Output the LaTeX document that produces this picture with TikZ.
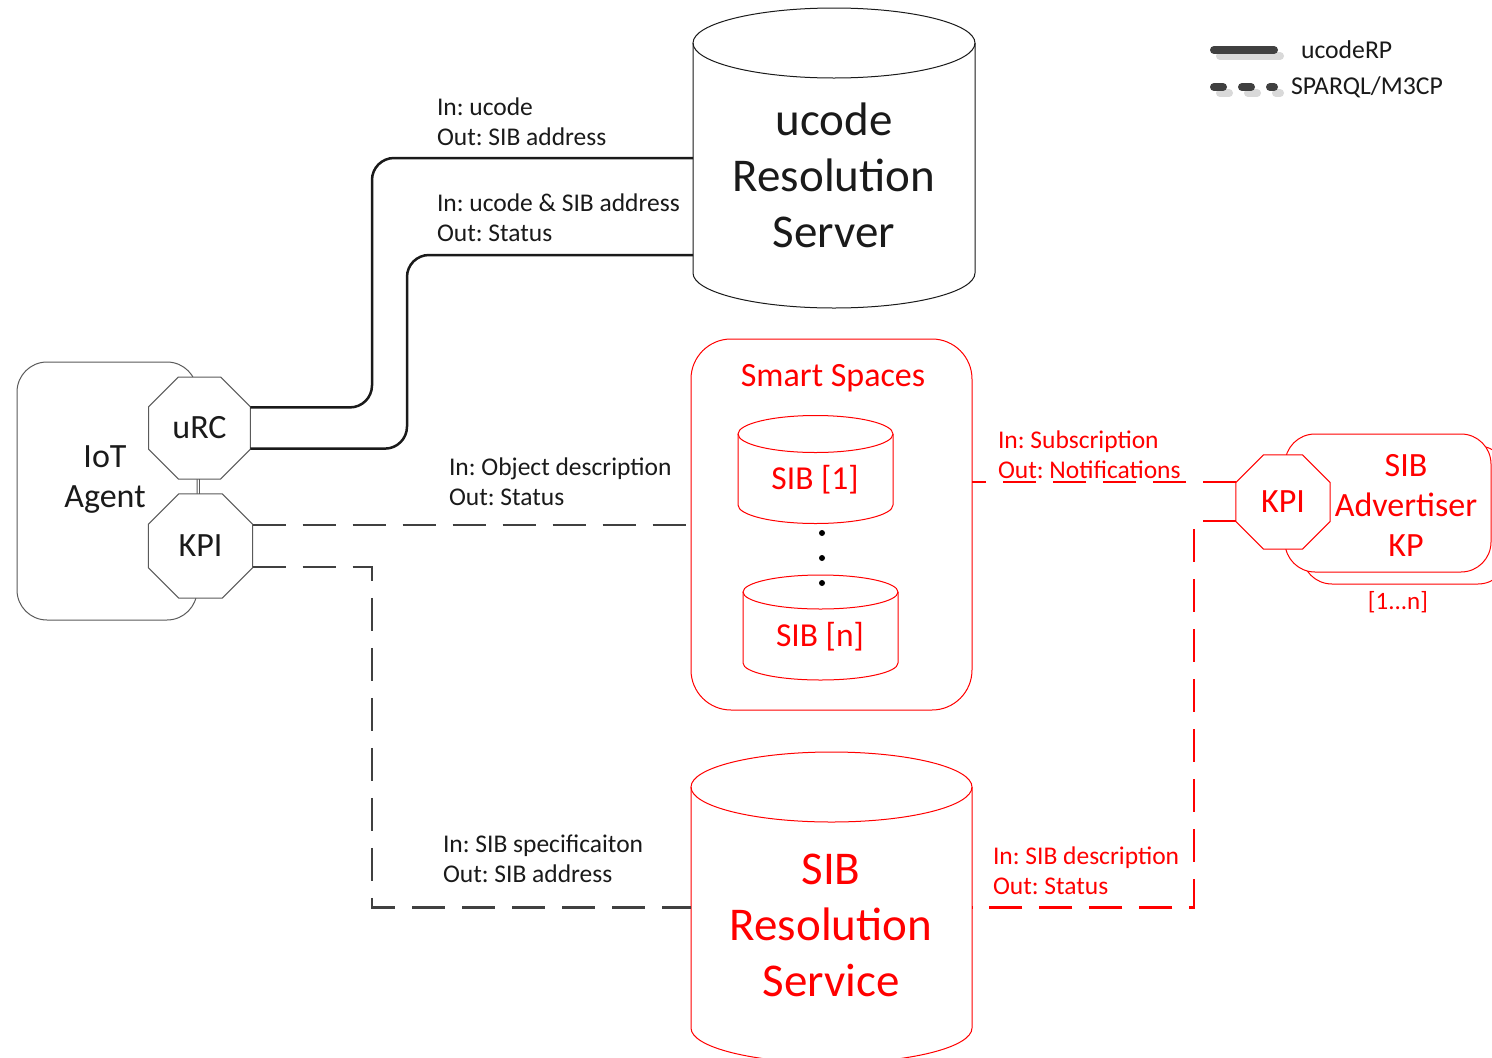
\documentclass[tikz,border=0pt]{standalone}
\usepackage{fontspec}
\setmainfont{Carlito}
\usetikzlibrary{shapes.geometric,calc}
\definecolor{lineblk}{HTML}{1A1A1A}
\definecolor{dashgray}{HTML}{404040}
\definecolor{outgray}{HTML}{5A5A5A}
\definecolor{shadowgray}{HTML}{D9D9D9}
\definecolor{myred}{HTML}{FF0000}
\newcommand{\drawcyl}[4]{%
  \draw[#2, line width=1pt] (#1.north west) -- (#1.south west)
     arc[start angle=180, end angle=360, x radius=#3pt, y radius=#4pt] -- (#1.north east);
  \draw[#2, line width=1pt] (#1.north) ellipse [x radius=#3pt, y radius=#4pt];}
\frenchspacing
\begin{document}
\begin{tikzpicture}[x=1pt,y=-1pt,
  every node/.style={inner sep=0pt, outer sep=0pt},
  lbl/.style={anchor=west, align=left, font=\fontsize{25.5}{30}\selectfont, text=lineblk},
  rlbl/.style={lbl, text=myred},
  bigtxt/.style={align=center, font=\fontsize{47}{56}\selectfont},
  midtxt/.style={align=center, font=\fontsize{34}{40}\selectfont},
  body/.style={rectangle, draw=none},
  oct/.style={regular polygon, regular polygon sides=8, draw=outgray, line width=1pt, fill=white, font=\fontsize{34}{38}\selectfont, text=lineblk},
  roct/.style={oct, draw=myred, text=myred},
  rp/.style={draw=lineblk, line width=2.5pt, rounded corners=22pt},
  sq/.style={draw=dashgray, line width=2.5pt, dash pattern=on 33pt off 17pt},
  rsq/.style={draw=myred, line width=2.5pt, dash pattern=on 33pt off 17pt},
  rbox/.style={rectangle, draw=myred, line width=1pt, fill=white, rounded corners=30pt},
]
\useasboundingbox (0,0) rectangle (1492,1058);
\fill[white] (0,0) rectangle (1492,1058);

% ---------- legend ----------
\coordinate (lga) at (1214,50);
\coordinate (lgb) at (1274,50);
\coordinate (lgc) at (1214,87);
\coordinate (lgd) at (1274,87);
\draw[shadowgray, line width=8pt, line cap=round] ($(lga)+(6,6)$) -- ($(lgb)+(6,6)$);
\draw[dashgray, line width=8pt, line cap=round] (lga) -- (lgb);
\draw[shadowgray, line width=8pt, line cap=round, dash pattern=on 9pt off 19pt] ($(lgc)+(6,6)$) -- ($(lgd)+(6,6)$);
\draw[dashgray, line width=8pt, line cap=round, dash pattern=on 9pt off 19pt] (lgc) -- (lgd);
\node[anchor=west, font=\fontsize{25.7}{30}\selectfont, text=lineblk] (lgt1) at (1301,50) {ucodeRP};
\node[anchor=west, font=\fontsize{25.7}{30}\selectfont, text=lineblk] (lgt2) at (1291,87) {SPARQL/M3CP};

% ---------- ucode Resolution Server ----------
\node[body, minimum width=282pt, minimum height=230pt] (ucs) at (834,158) {};
\drawcyl{ucs}{lineblk}{141}{35}
\node[bigtxt, text=lineblk] (ucst) at (834,175.5) {ucode\\Resolution\\Server};

% ---------- Smart Spaces ----------
\node[rectangle, draw=myred, line width=1pt, rounded corners=40pt, minimum width=281pt, minimum height=371pt] (ss) at (831.5,524.5) {};
\node[font=\fontsize{34}{38}\selectfont, text=myred] (sst) at (833,378) {Smart Spaces};
\node[body, minimum width=155pt, minimum height=71pt] (sib1) at (815.5,469.5) {};
\drawcyl{sib1}{myred}{77.5}{18.5}
\node[align=center, font=\fontsize{33.5}{40}\selectfont, text=myred] (sib1t) at (815,480) {SIB [1]};
\node[body, minimum width=155pt, minimum height=71pt] (sibn) at (820.5,627.5) {};
\drawcyl{sibn}{myred}{77.5}{17}
\node[align=center, font=\fontsize{33.5}{40}\selectfont, text=myred] (sibnt) at (820,637) {SIB [n]};
\fill[black] (822,533) circle[radius=3pt];
\fill[black] (822,558) circle[radius=3pt];
\fill[black] (822,583) circle[radius=3pt];

% ---------- SIB Resolution Service ----------
\node[body, minimum width=281pt, minimum height=241pt] (srs) at (831.5,907.5) {};
\drawcyl{srs}{myred}{140.5}{35}
\node[bigtxt, text=myred] (srst) at (831,925) {SIB\\Resolution\\Service};

% ---------- IoT Agent ----------
\node[rectangle, draw=outgray, line width=1pt, rounded corners=30pt, minimum width=180pt, minimum height=258pt] (agent) at (107,491) {};
\node[midtxt, text=lineblk] (agentt) at (105,480) {IoT\\Agent};
\node[oct, minimum size=110.4pt] (urc) at (199.5,428) {uRC};
\node[oct, minimum size=113pt] (kpi) at (200.5,546) {KPI};
\draw[outgray, line width=1pt] (urc.south) -- (urc.south |- kpi.north);

% ---------- SIB Advertiser KP ----------
\node[rbox, minimum width=206pt, minimum height=138pt] (sabk) at (1405,515) {};
\node[rbox, minimum width=206pt, minimum height=138pt] (safr) at (1388,503) {};
\node[roct, minimum size=102pt] (rkpi) at (1283,502) {KPI};
\node[midtxt, text=myred] (saft) at (1406,505) {SIB\\Advertiser\\KP};
\node[font=\fontsize{25}{30}\selectfont, text=myred] (san) at (1398,602) {[1...n]};

% ---------- connectors ----------
\draw[rp] (urc.22.5) -| ($(ucs.west)+(-321,0)$) -- (ucs.west);
\draw[rp] (urc.-22.5) -| ($(ucs.west)+(-286,97)$) -- ($(ucs.west)+(0,97)$);
\draw[sq] (kpi.22.5) -- (ss.west |- kpi.22.5);
\draw[sq] (kpi.-22.5) -| ($(srs.west)+(-319,0)$) -- (srs.west);
\draw[rsq] (rkpi.157.5) -- (ss.east |- rkpi.157.5);
\draw[rsq] (rkpi.202.5) -| ($(srs.east)+(222,0)$) -- (srs.east);

% ---------- labels ----------
\node[lbl] (l1) at (437,122) {In: ucode\\Out: SIB address};
\node[lbl] (l2) at (437,218) {In: ucode \& SIB address\\Out: Status};
\node[lbl] (l3) at (449,482) {In: Object description\\Out: Status};
\node[lbl] (l4) at (443,859) {In: SIB specificaiton\\Out: SIB address};
\node[rlbl] (l5) at (998,455) {In: Subscription\\Out: Notifications};
\node[rlbl] (l6) at (993,871) {In: SIB description\\Out: Status};
\end{tikzpicture}
\end{document}
